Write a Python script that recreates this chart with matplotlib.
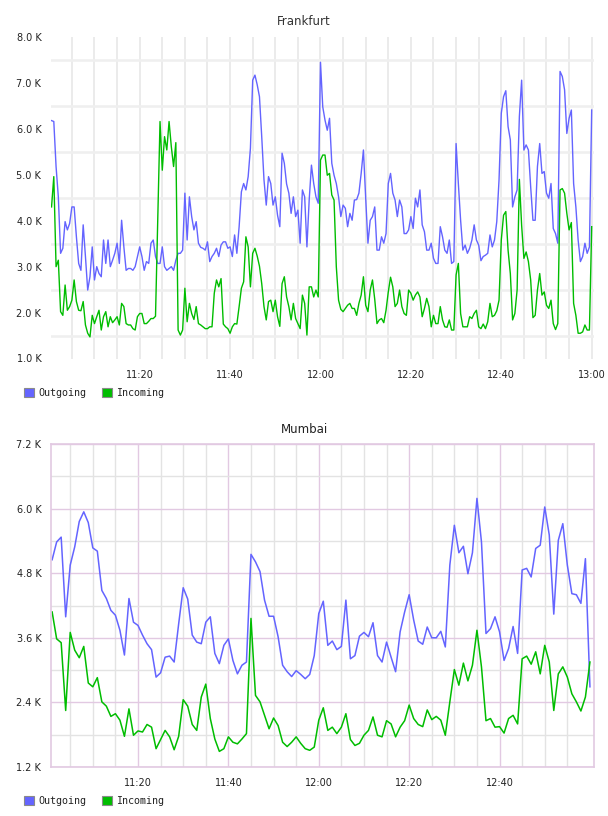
import numpy as np
import matplotlib
matplotlib.use("Agg")
import matplotlib.pyplot as plt
from matplotlib.patches import Patch

# ---------------- data (values in thousands) ----------------
# Frankfurt: one sample every 30 s, 11:00:30 .. 13:00:00
fra_out = [
    6.18, 6.16, 5.18, 4.52, 3.29, 3.40, 3.98, 3.80, 3.94, 4.30,
    4.30, 3.65, 3.07, 2.92, 3.91, 3.22, 2.49, 2.78, 3.43, 2.71,
    3.00, 2.85, 2.78, 3.58, 3.07, 3.58, 3.00, 3.14, 3.29, 3.51,
    3.07, 4.01, 3.43, 2.92, 2.96, 2.96, 2.92, 3.00, 3.22, 3.43,
    3.22, 2.92, 3.11, 3.07, 3.51, 3.58, 3.22, 3.07, 3.07, 3.43,
    3.00, 2.92, 2.96, 3.00, 2.92, 3.14, 3.29, 3.29, 3.36, 4.60,
    3.58, 4.52, 4.09, 3.80, 3.98, 3.51, 3.42, 3.40, 3.36, 3.54,
    3.11, 3.22, 3.29, 3.40, 3.22, 3.47, 3.54, 3.54, 3.40, 3.43,
    3.22, 3.69, 3.29, 3.87, 4.63, 4.81, 4.67, 4.96, 5.58, 7.06,
    7.17, 6.96, 6.70, 5.83, 4.89, 4.34, 4.96, 4.81, 4.34, 4.52,
    4.12, 3.87, 5.47, 5.25, 4.80, 4.60, 4.16, 4.52, 4.09, 4.23,
    3.51, 4.67, 4.52, 3.43, 4.45, 5.21, 4.81, 4.52, 4.38, 7.45,
    6.48, 6.19, 5.97, 6.23, 5.25, 4.99, 4.81, 4.52, 4.09, 4.34,
    4.27, 3.87, 4.16, 4.01, 4.45, 4.46, 4.60, 5.03, 5.54, 4.49,
    3.51, 4.01, 4.09, 4.30, 3.36, 3.36, 3.65, 3.51, 3.72, 4.81,
    5.03, 4.60, 4.45, 4.09, 4.45, 4.30, 3.72, 3.72, 3.80, 4.09,
    3.83, 4.49, 4.30, 4.67, 3.91, 3.76, 3.36, 3.36, 3.51, 3.18,
    3.07, 3.07, 3.87, 3.65, 3.36, 3.29, 3.58, 3.07, 3.11, 5.68,
    4.81, 4.01, 3.36, 3.47, 3.29, 3.40, 3.58, 3.91, 3.58, 3.47,
    3.13, 3.22, 3.25, 3.29, 3.69, 3.43, 3.58, 3.98, 4.89, 6.34,
    6.70, 6.83, 6.05, 5.76, 4.30, 4.52, 4.67, 6.27, 7.06, 5.54,
    5.65, 5.54, 4.74, 4.01, 4.01, 5.18, 5.68, 5.03, 5.07, 4.60,
    4.49, 4.81, 3.83, 3.72, 3.51, 7.25, 7.14, 6.85, 5.90, 6.23,
    6.41, 4.81, 4.30, 3.58, 3.11, 3.22, 3.51, 3.29, 3.43, 6.41,
]
fra_in = [
    4.30, 4.96, 3.00, 3.14, 2.02, 1.94, 2.60, 2.05, 2.13, 2.27,
    2.71, 2.24, 2.05, 2.04, 2.24, 1.73, 1.55, 1.47, 1.94, 1.76,
    1.91, 2.05, 1.62, 1.91, 2.02, 1.69, 1.91, 1.78, 1.84, 1.91,
    1.73, 2.20, 2.13, 1.76, 1.73, 1.73, 1.65, 1.62, 1.91, 1.98,
    1.98, 1.76, 1.76, 1.81, 1.87, 1.87, 1.92, 4.00, 6.16, 5.10,
    5.83, 5.54, 6.16, 5.61, 5.18, 5.70, 1.62, 1.51, 1.62, 2.53,
    1.80, 2.20, 1.98, 1.85, 2.13, 1.76, 1.73, 1.69, 1.65, 1.65,
    1.69, 1.69, 2.42, 2.71, 2.56, 2.74, 1.75, 1.69, 1.65, 1.55,
    1.69, 1.76, 1.75, 2.13, 2.53, 2.67, 3.65, 3.43, 2.56, 3.29,
    3.40, 3.23, 3.01, 2.63, 2.13, 1.84, 2.24, 2.27, 2.02, 2.27,
    1.91, 1.70, 2.63, 2.78, 2.34, 2.13, 1.84, 2.20, 1.87, 1.76,
    1.65, 2.38, 2.20, 1.51, 2.56, 2.56, 2.34, 2.49, 2.34, 5.32,
    5.43, 5.43, 4.99, 5.03, 4.56, 4.45, 3.00, 2.27, 2.07, 2.02,
    2.09, 2.16, 2.20, 2.09, 2.09, 1.94, 2.20, 2.38, 2.78, 2.16,
    2.02, 2.49, 2.71, 2.29, 1.76, 1.84, 1.87, 1.78, 2.05, 2.45,
    2.77, 2.56, 2.13, 2.20, 2.49, 2.13, 1.98, 1.94, 2.49, 2.42,
    2.27, 2.38, 2.45, 2.34, 1.91, 2.09, 2.31, 2.13, 1.69, 1.94,
    1.76, 1.76, 2.13, 1.84, 1.69, 1.68, 1.84, 1.62, 1.62, 2.82,
    3.07, 1.98, 1.69, 1.69, 1.69, 1.91, 1.87, 1.98, 2.05, 1.69,
    1.65, 1.75, 1.65, 1.80, 2.20, 1.91, 1.94, 2.04, 2.27, 3.58,
    4.12, 4.20, 3.36, 2.85, 1.84, 1.98, 2.49, 4.90, 3.90, 3.18,
    3.32, 3.11, 2.71, 1.89, 1.94, 2.49, 2.85, 2.38, 2.45, 2.16,
    2.09, 2.27, 1.76, 1.63, 1.76, 4.67, 4.70, 4.60, 4.16, 3.80,
    3.96, 2.20, 1.94, 1.55, 1.55, 1.58, 1.73, 1.62, 1.62, 3.87,
]
# Mumbai: one sample every 60 s, 11:01 .. 13:00
mum_out = [
    5.05, 5.38, 5.47, 3.99, 4.95, 5.29, 5.76, 5.94, 5.74, 5.27,
    5.21, 4.48, 4.33, 4.11, 4.02, 3.74, 3.28, 4.33, 3.89, 3.83,
    3.65, 3.49, 3.38, 2.87, 2.95, 3.24, 3.26, 3.15, 3.86, 4.53,
    4.32, 3.65, 3.52, 3.49, 3.89, 3.99, 3.31, 3.12, 3.46, 3.58,
    3.18, 2.93, 3.09, 3.15, 5.15, 5.01, 4.83, 4.30, 4.00, 4.00,
    3.62, 3.09, 2.97, 2.88, 2.99, 2.92, 2.84, 2.92, 3.27, 4.05,
    4.28, 3.46, 3.54, 3.38, 3.44, 4.30, 3.21, 3.27, 3.63, 3.70,
    3.62, 3.88, 3.27, 3.15, 3.52, 3.24, 2.97, 3.71, 4.08, 4.40,
    3.93, 3.54, 3.48, 3.80, 3.60, 3.60, 3.72, 3.43, 4.95, 5.69,
    5.18, 5.30, 4.79, 5.18, 6.19, 5.38, 3.68, 3.77, 3.99, 3.71,
    3.18, 3.40, 3.81, 3.31, 4.86, 4.89, 4.73, 5.26, 5.32, 6.03,
    5.51, 4.04, 5.41, 5.72, 4.95, 4.42, 4.40, 4.24, 5.07, 2.69,
]
mum_in = [
    4.08, 3.58, 3.51, 2.25, 3.70, 3.37, 3.23, 3.44, 2.76, 2.69,
    2.86, 2.41, 2.33, 2.14, 2.19, 2.07, 1.77, 2.28, 1.79, 1.87,
    1.85, 1.99, 1.94, 1.54, 1.71, 1.88, 1.76, 1.52, 1.77, 2.45,
    2.33, 1.99, 1.88, 2.50, 2.74, 2.10, 1.72, 1.49, 1.54, 1.76,
    1.66, 1.63, 1.72, 1.82, 3.96, 2.53, 2.41, 2.16, 1.91, 2.11,
    1.97, 1.66, 1.58, 1.66, 1.76, 1.64, 1.54, 1.51, 1.57, 2.07,
    2.30, 1.88, 1.94, 1.82, 1.94, 2.19, 1.71, 1.60, 1.64, 1.79,
    1.88, 2.13, 1.79, 1.76, 2.06, 2.00, 1.76, 1.94, 2.06, 2.35,
    2.10, 1.99, 1.95, 2.26, 2.08, 2.14, 2.07, 1.79, 2.41, 3.01,
    2.72, 3.13, 2.80, 3.09, 3.74, 3.06, 2.06, 2.10, 1.94, 1.95,
    1.83, 2.10, 2.16, 2.00, 3.21, 3.26, 3.11, 3.34, 2.93, 3.46,
    3.15, 2.25, 2.93, 3.06, 2.87, 2.56, 2.41, 2.24, 2.50, 3.15,
]

series_names = ["Outgoing", "Incoming"]
x_tick_minutes = [20, 40, 60, 80, 100, 120]
x_tick_labels = ["11:20", "11:40", "12:00", "12:20", "12:40", "13:00"]
fra_yticks = [1, 2, 3, 4, 5, 6, 7, 8]
fra_ylabels = ["1.0 K", "2.0 K", "3.0 K", "4.0 K", "5.0 K", "6.0 K", "7.0 K", "8.0 K"]
mum_yticks = [1.2, 2.4, 3.6, 4.8, 6.0, 7.2]
mum_ylabels = ["1.2 K", "2.4 K", "3.6 K", "4.8 K", "6.0 K", "7.2 K"]

# time axes (minutes after 11:00)
fra_t = 0.5 + 0.5 * np.arange(len(fra_out))
mum_t = 1.0 + np.arange(len(mum_out))

BLUE = "#6464ff"
GREEN = "#00bd00"
W, H = 608, 816

fig = plt.figure(figsize=(W / 100, H / 100), dpi=100)
fig.patch.set_facecolor("white")


def fx(px):
    return px / W


def fy(py):
    return 1 - py / H


def style_ticks(ax):
    ax.tick_params(axis="both", which="both", length=0, labelsize=7,
                   labelcolor="#222222")
    ax.tick_params(axis="y", pad=7)
    ax.tick_params(axis="x", pad=8)


# ---------------- Frankfurt ----------------
ax1 = fig.add_axes([fx(51), fy(358.5), fx(593.5) - fx(51), fy(37) - fy(358.5)])
ax1.plot(fra_t, fra_out, color=BLUE, lw=1.0)
ax1.plot(fra_t, fra_in, color=GREEN, lw=1.0)
ax1.set_xlim(0.38, 120.4)
ax1.set_ylim(1, 8)
ax1.set_yticks(fra_yticks)
ax1.set_yticklabels(fra_ylabels)
ax1.set_yticks(np.array(fra_yticks[:-1]) + 0.5, minor=True)
ax1.set_xticks(x_tick_minutes)
ax1.set_xticklabels(x_tick_labels)
ax1.set_xticks(np.arange(5, 121, 5), minor=True)
ax1.grid(which="minor", axis="y", color="#efefef", lw=1.8)
ax1.grid(which="both", axis="x", color="#e6e6e6", lw=1.1)
ax1.set_axisbelow(True)
for s in ax1.spines.values():
    s.set_visible(False)
style_ticks(ax1)
fig.text(0.5, fy(25), "Frankfurt", ha="center", va="baseline",
         fontsize=8.5, color="#333333")

# ---------------- Mumbai ----------------
PINK = "#e2c9e2"
ax2 = fig.add_axes([fx(51), fy(767), fx(594) - fx(51), fy(444) - fy(767)])
ax2.plot(mum_t, mum_out, color=BLUE, lw=1.1)
ax2.plot(mum_t, mum_in, color=GREEN, lw=1.1)
ax2.set_xlim(0.75, 120.9)
ax2.set_ylim(1.2, 7.2)
ax2.set_yticks(mum_yticks)
ax2.set_yticklabels(mum_ylabels)
ax2.set_yticks(np.array(mum_yticks[:-1]) + 0.6, minor=True)
ax2.set_xticks(x_tick_minutes[:-1])
ax2.set_xticklabels(x_tick_labels[:-1])
ax2.set_xticks([m for m in range(5, 120, 5) if m % 20 != 0], minor=True)
ax2.grid(which="major", color=PINK, lw=1.0)
ax2.grid(which="minor", color="#e3e3e3", lw=1.0)
ax2.set_axisbelow(True)
for s in ax2.spines.values():
    s.set_color(PINK)
    s.set_linewidth(1.2)
style_ticks(ax2)
fig.text(0.5, fy(433), "Mumbai", ha="center", va="baseline",
         fontsize=8.5, color="#222222")

# ---------------- legends ----------------
def add_legend(top_px):
    handles = [Patch(facecolor=BLUE, edgecolor="#8a8a8a", lw=0.8),
               Patch(facecolor=GREEN, edgecolor="#8a8a8a", lw=0.8)]
    fig.legend(handles, series_names, loc="upper left",
               bbox_to_anchor=(fx(23.5), fy(top_px)), ncol=2, frameon=False,
               prop={"family": "DejaVu Sans Mono", "size": 7.2},
               handlelength=1.0, handleheight=1.0, handletextpad=0.5,
               columnspacing=1.5, borderpad=0, borderaxespad=0,
               labelcolor="#222222")


add_legend(388)
add_legend(796)

fig.savefig("out.png", dpi=100, facecolor="white")
